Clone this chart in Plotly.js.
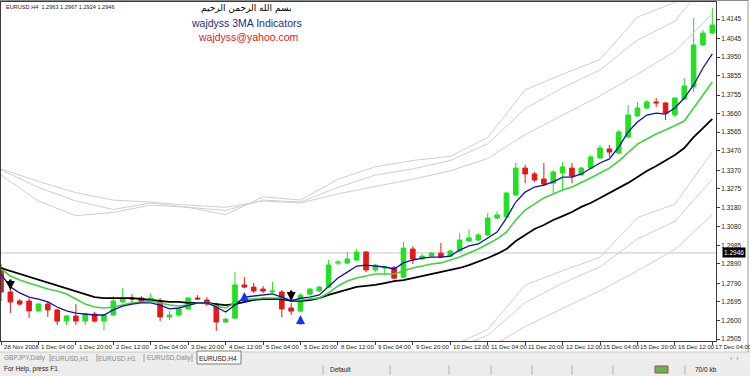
<!DOCTYPE html>
<html><head><meta charset="utf-8">
<script src="https://cdn.plot.ly/plotly-3.0.1.min.js"></script>
<style>html,body{margin:0;padding:0;background:#fff;overflow:hidden}#chart{width:750px;height:376px}</style>
</head><body><div id="chart"></div><script>
// ---------------- DATA ----------------
const symbolName = 'EURUSD,H4';
const headerQuote = [1.2963, 1.2967, 1.2924, 1.2946];
const bidPrice = 1.2946;

const open = [
1.2869,1.2746,1.2700,1.2700,1.2649,1.2684,1.2654,1.2597,1.2623,1.2597,
1.2633,1.2597,1.2628,1.2695,1.2715,1.2715,1.2700,1.2695,1.2618,1.2628,
1.2659,1.2715,1.2705,1.2679,1.2592,1.2612,1.2782,1.2771,1.2761,1.2746,
1.2746,1.2664,1.2648,1.2735,1.2751,1.2771,1.2894,1.2894,1.2910,1.2951,
1.2859,1.2869,1.2871,1.2822,1.2966,1.2915,1.2930,1.2945,1.2930,1.2956,
1.3007,1.3012,1.3038,1.3125,1.3130,1.3243,1.3381,1.3351,1.3325,1.3304,
1.3356,1.3381,1.3346,1.3381,1.3433,1.3479,1.3458,1.3540,1.3648,1.3689,
1.3720,1.3715,1.3653,1.3735,1.3797,1.4012,1.4073];
const high = [
1.2890,1.2766,1.2710,1.2715,1.2690,1.2695,1.2660,1.2628,1.2684,1.2640,
1.2645,1.2633,1.2725,1.2766,1.2735,1.2725,1.2740,1.2715,1.2648,1.2665,
1.2720,1.2730,1.2720,1.2690,1.2612,1.2848,1.2822,1.2792,1.2776,1.2797,
1.2756,1.2690,1.2740,1.2766,1.2776,1.2910,1.2910,1.2951,1.2966,1.2956,
1.2890,1.2879,1.2879,1.3002,1.2981,1.2940,1.2951,1.2997,1.2961,1.3048,
1.3068,1.3048,1.3151,1.3160,1.3258,1.3407,1.3397,1.3361,1.3407,1.3371,
1.3412,1.3407,1.3387,1.3448,1.3499,1.3499,1.3576,1.3704,1.3720,1.3730,
1.3740,1.3720,1.3745,1.3843,1.4150,1.4089,1.4201];
const low = [
1.2700,1.2638,1.2675,1.2613,1.2645,1.2618,1.2577,1.2577,1.2577,1.2577,
1.2590,1.2551,1.2623,1.2690,1.2695,1.2690,1.2695,1.2597,1.2602,1.2618,
1.2654,1.2705,1.2675,1.2546,1.2587,1.2607,1.2766,1.2741,1.2741,1.2741,
1.2618,1.2628,1.2643,1.2730,1.2746,1.2766,1.2884,1.2889,1.2905,1.2848,
1.2848,1.2833,1.2812,1.2817,1.2889,1.2910,1.2925,1.2920,1.2925,1.2951,
1.3002,1.3007,1.3033,1.3120,1.3125,1.3238,1.3304,1.3310,1.3289,1.3253,
1.3269,1.3304,1.3340,1.3376,1.3428,1.3438,1.3453,1.3535,1.3643,1.3684,
1.3694,1.3627,1.3643,1.3730,1.3771,1.4007,1.4068];
const close = [
1.2746,1.2695,1.2684,1.2649,1.2684,1.2654,1.2597,1.2623,1.2597,1.2633,
1.2597,1.2628,1.2700,1.2715,1.2710,1.2695,1.2715,1.2618,1.2628,1.2659,
1.2715,1.2710,1.2684,1.2592,1.2607,1.2782,1.2771,1.2751,1.2751,1.2751,
1.2659,1.2648,1.2730,1.2761,1.2771,1.2884,1.2899,1.2915,1.2951,1.2859,
1.2884,1.2874,1.2817,1.2971,1.2915,1.2930,1.2945,1.2925,1.2956,1.3012,
1.3023,1.3038,1.3125,1.3141,1.3253,1.3381,1.3351,1.3320,1.3299,1.3361,
1.3387,1.3340,1.3381,1.3438,1.3484,1.3463,1.3566,1.3653,1.3689,1.3720,
1.3715,1.3663,1.3740,1.3802,1.4012,1.4073,1.4114];

const maFast = [
1.2838,1.2772,1.2741,1.2720,1.2710,1.2695,1.2669,1.2649,1.2638,1.2633,
1.2628,1.2628,1.2654,1.2674,1.2684,1.2690,1.2690,1.2679,1.2659,1.2664,
1.2679,1.2690,1.2690,1.2669,1.2643,1.2679,1.2720,1.2725,1.2731,1.2736,
1.2720,1.2700,1.2715,1.2720,1.2731,1.2772,1.2818,1.2848,1.2879,1.2884,
1.2879,1.2874,1.2864,1.2895,1.2910,1.2920,1.2925,1.2925,1.2930,1.2961,
1.2982,1.2992,1.3023,1.3053,1.3125,1.3207,1.3258,1.3284,1.3294,1.3310,
1.3335,1.3335,1.3351,1.3381,1.3407,1.3428,1.3489,1.3566,1.3617,1.3653,
1.3663,1.3658,1.3689,1.3740,1.3807,1.3894,1.3966];
const maMid = [
1.2864,1.2828,1.2807,1.2792,1.2777,1.2761,1.2751,1.2736,1.2710,1.2684,
1.2669,1.2664,1.2669,1.2679,1.2690,1.2695,1.2700,1.2690,1.2679,1.2674,
1.2679,1.2690,1.2690,1.2674,1.2664,1.2690,1.2710,1.2710,1.2715,1.2715,
1.2715,1.2705,1.2705,1.2710,1.2715,1.2741,1.2777,1.2802,1.2818,1.2828,
1.2838,1.2838,1.2838,1.2854,1.2869,1.2879,1.2889,1.2895,1.2910,1.2925,
1.2946,1.2966,1.2992,1.3018,1.3053,1.3115,1.3166,1.3197,1.3228,1.3248,
1.3269,1.3284,1.3305,1.3330,1.3356,1.3381,1.3417,1.3463,1.3504,1.3530,
1.3556,1.3576,1.3597,1.3622,1.3689,1.3756,1.3822];
const maSlow = [
1.2869,1.2854,1.2838,1.2823,1.2807,1.2792,1.2777,1.2766,1.2751,1.2736,
1.2720,1.2715,1.2715,1.2715,1.2715,1.2710,1.2705,1.2700,1.2695,1.2695,
1.2690,1.2690,1.2690,1.2684,1.2679,1.2684,1.2695,1.2705,1.2710,1.2710,
1.2710,1.2700,1.2700,1.2705,1.2715,1.2731,1.2746,1.2761,1.2772,1.2777,
1.2782,1.2792,1.2802,1.2807,1.2818,1.2828,1.2838,1.2848,1.2859,1.2869,
1.2884,1.2900,1.2920,1.2941,1.2966,1.3007,1.3038,1.3069,1.3089,1.3115,
1.3135,1.3156,1.3182,1.3202,1.3228,1.3253,1.3279,1.3305,1.3335,1.3366,
1.3392,1.3422,1.3448,1.3484,1.3540,1.3586,1.3633];

// envelope lines, read every 4th bar
const envStep = 4;
const envFastUp = [1.3345,1.3212,1.3137,1.3154,1.3191,1.3180,1.3142,1.3234,1.3217,1.3324,1.3388,1.3420,1.3441,1.3537,1.3782,1.3862,1.3937,1.4155,1.4230,1.4518];
const envMidUp  = [1.3372,1.3282,1.3212,1.3169,1.3202,1.3180,1.3164,1.3217,1.3207,1.3282,1.3345,1.3377,1.3420,1.3505,1.3686,1.3793,1.3884,1.4037,1.4134,1.4368];
const envSlowUp = [1.3377,1.3313,1.3255,1.3217,1.3207,1.3191,1.3180,1.3212,1.3202,1.3249,1.3287,1.3324,1.3367,1.3430,1.3553,1.3654,1.3751,1.3862,1.3979,1.4172];
const envFastLo = [1.2376,1.2252,1.2183,1.2198,1.2233,1.2223,1.2188,1.2273,1.2257,1.2357,1.2415,1.2445,1.2465,1.2554,1.2781,1.2855,1.2924,1.3127,1.3196,1.3463];
const envMidLo  = [1.2401,1.2317,1.2252,1.2213,1.2243,1.2223,1.2208,1.2257,1.2248,1.2317,1.2376,1.2406,1.2445,1.2524,1.2692,1.2791,1.2875,1.3018,1.3108,1.3324];
const envSlowLo = [1.2406,1.2346,1.2292,1.2257,1.2248,1.2233,1.2223,1.2252,1.2243,1.2287,1.2322,1.2357,1.2396,1.2455,1.2569,1.2662,1.2752,1.2855,1.2964,1.3142];

// signal arrows (price at the arrow tip)
const sellArrowBars = [1, 31];
const sellArrowPrices = [1.2756, 1.2700];
const buyArrowBars = [26, 32];
const buyArrowPrices = [1.2746, 1.2628];

const priceTicks = [1.4145,1.4045,1.3950,1.3855,1.3755,1.3660,1.3565,1.3470,1.3370,1.3275,1.3180,1.3080,1.2985,1.2890,1.2790,1.2695,1.2600,1.2505];
const timeTickBars = [0,4,8,12,16,20,24,28,32,36,40,44,48,52,56,60,64,68,72,76];
const timeTickLabels = ['28 Nov 2008','1 Dec 04:00','1 Dec 20:00','2 Dec 12:00','3 Dec 04:00','3 Dec 20:00','4 Dec 12:00','5 Dec 04:00','5 Dec 20:00','8 Dec 12:00','9 Dec 04:00','9 Dec 20:00','10 Dec 12:00','11 Dec 04:00','11 Dec 20:00','12 Dec 12:00','15 Dec 04:00','15 Dec 20:00','16 Dec 12:00','17 Dec 04:00'];

const titleLines = ['بسم الله الرحمن الرحيم', 'wajdyss 3MA Indicators', 'wajdyss@yahoo.com'];
const tabNames = ['GBPJPY,Daily','EURUSD,H1','EURUSD,H1','EURUSD,Daily','EURUSD,H4'];
const statusTexts = ['For Help, press F1', 'Default', '70/0 kb'];

// ---------------- LAYOUT HELPERS ----------------
const W = 750, H = 376;
const M = {l: 1, r: 34, t: 2, b: 35};
const PW = W - M.l - M.r, PH = H - M.t - M.b;
const px = x => (x - M.l) / PW;
const py = y => (H - M.b - y) / PH;
const uiFont = 'Liberation Sans, Arial, sans-serif';

const bars = open.map((_, i) => i);
const envX = envFastUp.map((_, k) => k * envStep);

const traces = [];
const envColor = '#cfcfcf';
[envFastUp, envMidUp, envSlowUp, envFastLo, envMidLo, envSlowLo].forEach(v => {
  traces.push({type: 'scatter', mode: 'lines', x: envX, y: v, line: {color: envColor, width: 1}, hoverinfo: 'skip'});
});
traces.push({
  type: 'candlestick', x: bars, open: open, high: high, low: low, close: close,
  increasing: {line: {color: '#22e022', width: 1}, fillcolor: '#22e022'},
  decreasing: {line: {color: '#e81818', width: 1}, fillcolor: '#e81818'},
  whiskerwidth: 0, hoverinfo: 'skip'
});
traces.push({type: 'scatter', mode: 'lines', x: bars, y: maSlow, line: {color: '#000000', width: 1.8}, hoverinfo: 'skip'});
traces.push({type: 'scatter', mode: 'lines', x: bars, y: maMid, line: {color: '#3fd33f', width: 1.6}, hoverinfo: 'skip'});
traces.push({type: 'scatter', mode: 'lines', x: bars, y: maFast, line: {color: '#1010b0', width: 1.3}, hoverinfo: 'skip'});

const annotations = [];
// arrows drawn as annotation arrows pointing at (bar, price)
const arrowStyle = {text: '', showarrow: true, arrowhead: 2, arrowsize: 0.75, arrowwidth: 2.4, standoff: 0, ax: 0};
sellArrowBars.forEach((b, k) => annotations.push(Object.assign({xref: 'x', yref: 'y', x: b, y: sellArrowPrices[k], ay: -12, arrowcolor: '#000000'}, arrowStyle)));
buyArrowBars.forEach((b, k) => annotations.push(Object.assign({xref: 'x', yref: 'y', x: b, y: buyArrowPrices[k], ay: 11, arrowcolor: '#1530ff'}, arrowStyle)));

annotations.push({xref: 'paper', yref: 'paper', x: px(4), y: py(7), xanchor: 'left', yanchor: 'middle', showarrow: false,
  text: symbolName + '  ' + headerQuote.map(v => v.toFixed(4)).join(' '), font: {family: uiFont, size: 5.6, color: '#222'}});
annotations.push({xref: 'paper', yref: 'paper', x: px(246), y: py(8), xanchor: 'center', yanchor: 'middle', showarrow: false,
  text: titleLines[0], font: {family: 'DejaVu Sans', size: 9, color: '#000'}});
annotations.push({xref: 'paper', yref: 'paper', x: px(247), y: py(23), xanchor: 'center', yanchor: 'middle', showarrow: false,
  text: titleLines[1], font: {family: uiFont, size: 10.5, color: '#1c2a8c'}});
annotations.push({xref: 'paper', yref: 'paper', x: px(248), y: py(37), xanchor: 'center', yanchor: 'middle', showarrow: false,
  text: titleLines[2], font: {family: uiFont, size: 10.5, color: '#e02020'}});
timeTickBars.forEach((b, k) => {
  annotations.push({xref: 'x', yref: 'paper', x: b, y: py(346), xanchor: 'left', yanchor: 'middle', xshift: 1, showarrow: false,
    text: timeTickLabels[k], font: {family: uiFont, size: 6.1, color: '#222'}});
});
annotations.push({xref: 'paper', yref: 'y', x: 1, y: bidPrice, xanchor: 'left', yanchor: 'middle', xshift: 6, showarrow: false,
  text: bidPrice.toFixed(4), bgcolor: '#000', borderpad: 1, font: {family: uiFont, size: 6.5, color: '#fff'}});
const tabCenters = [25, 70, 117, 169, 218];
tabNames.forEach((t, k) => {
  annotations.push({xref: 'paper', yref: 'paper', x: px(tabCenters[k]), y: py(358), xanchor: 'center', yanchor: 'middle', showarrow: false,
    text: t, font: {family: uiFont, size: 6.5, color: k === tabNames.length - 1 ? '#111' : '#8a8a8a'}});
});
annotations.push({xref: 'paper', yref: 'paper', x: px(734), y: py(358), xanchor: 'center', yanchor: 'middle', showarrow: false,
  text: '‹  ›', font: {family: uiFont, size: 7, color: '#888'}});
annotations.push({xref: 'paper', yref: 'paper', x: px(2), y: py(369), xanchor: 'left', yanchor: 'middle', showarrow: false,
  text: statusTexts[0], font: {family: uiFont, size: 6.5, color: '#222'}});
annotations.push({xref: 'paper', yref: 'paper', x: px(328), y: py(369), xanchor: 'left', yanchor: 'middle', showarrow: false,
  text: statusTexts[1], font: {family: uiFont, size: 6.5, color: '#222'}});
annotations.push({xref: 'paper', yref: 'paper', x: px(693), y: py(369), xanchor: 'left', yanchor: 'middle', showarrow: false,
  text: statusTexts[2], font: {family: uiFont, size: 6.5, color: '#222'}});

const shapes = [];
shapes.push({type: 'line', xref: 'paper', x0: 0, x1: 1, yref: 'y', y0: bidPrice, y1: bidPrice, line: {color: '#c6c6c6', width: 1}, layer: 'below'});
shapes.push({type: 'rect', xref: 'paper', yref: 'paper', x0: px(0), x1: px(750), y0: py(352), y1: py(364), fillcolor: '#ededed', line: {width: 0}, layer: 'above'});
shapes.push({type: 'rect', xref: 'paper', yref: 'paper', x0: px(0), x1: px(750), y0: py(364), y1: py(376), fillcolor: '#ececec', line: {width: 0}, layer: 'above'});
shapes.push({type: 'line', xref: 'paper', yref: 'paper', x0: px(0), x1: px(750), y0: py(352), y1: py(352), line: {color: '#c8c8c8', width: 1}, layer: 'above'});
shapes.push({type: 'rect', xref: 'paper', yref: 'paper', x0: px(197), x1: px(241), y0: py(351), y1: py(364), fillcolor: '#ffffff', line: {color: '#7a7a7a', width: 1}, layer: 'above'});
[50, 97, 144, 192].forEach(x => shapes.push({type: 'line', xref: 'paper', yref: 'paper', x0: px(x), x1: px(x), y0: py(354), y1: py(362), line: {color: '#a0a0a0', width: 1}, layer: 'above'}));
[323, 390, 449, 491, 532, 572, 613, 685].forEach(x => shapes.push({type: 'line', xref: 'paper', yref: 'paper', x0: px(x), x1: px(x), y0: py(365), y1: py(375), line: {color: '#b4b4b4', width: 1}, layer: 'above'}));
shapes.push({type: 'rect', xref: 'paper', yref: 'paper', x0: px(655), x1: px(668), y0: py(366), y1: py(373), fillcolor: '#5cb85c', line: {color: '#c04040', width: 1}, layer: 'above'});
shapes.push({type: 'line', xref: 'paper', yref: 'paper', x0: px(748), x1: px(748), y0: py(0), y1: py(352), line: {color: '#9a9a9a', width: 1}, layer: 'above'});
shapes.push({type: 'line', xref: 'paper', yref: 'paper', x0: px(0), x1: px(748), y0: py(0.5), y1: py(0.5), line: {color: '#8a8a8a', width: 1}, layer: 'above'});

const layout = {
  width: W, height: H, margin: {l: M.l, r: M.r, t: M.t, b: M.b, pad: 0},
  paper_bgcolor: '#ffffff', plot_bgcolor: '#ffffff', showlegend: false,
  xaxis: {type: 'linear', range: [0, 76.39], showgrid: false, zeroline: false, showline: true, mirror: true,
    linecolor: '#3a3a3a', linewidth: 1, ticks: 'outside', ticklen: 3, tickcolor: '#3a3a3a',
    tickvals: timeTickBars, showticklabels: false, rangeslider: {visible: false}, fixedrange: true},
  yaxis: {side: 'right', range: [1.24948, 1.42322], showgrid: false, zeroline: false, showline: true, mirror: true,
    linecolor: '#3a3a3a', linewidth: 1, ticks: 'outside', ticklen: 3, tickcolor: '#3a3a3a',
    tickvals: priceTicks, ticktext: priceTicks.map(v => v.toFixed(4)),
    tickfont: {family: uiFont, size: 6.5, color: '#222'}, fixedrange: true},
  annotations: annotations, shapes: shapes
};
Plotly.newPlot('chart', traces, layout, {staticPlot: true, displayModeBar: false});
</script></body></html>
